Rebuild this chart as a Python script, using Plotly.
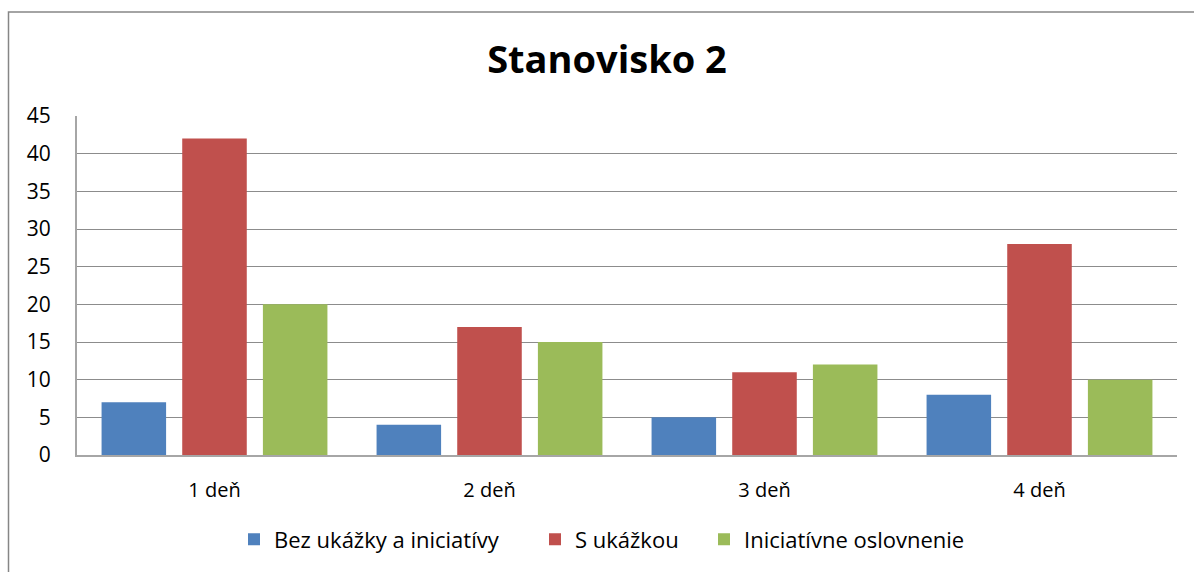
import plotly.graph_objects as go

categories = ["1 deň", "2 deň", "3 deň", "4 deň"]
series_names = ["Bez ukážky a iniciatívy", "S ukážkou", "Iniciatívne oslovnenie"]
bez_ukazky = [7, 4, 5, 8]
s_ukazkou = [42, 17, 11, 28]
iniciativne = [20, 15, 12, 10]
colors = ["#4F81BD", "#C0504D", "#9BBB59"]
y_ticks = list(range(0, 50, 5))

FONT = "Open Sans"

W, H = 1194, 572
L, R, T, B = 77, 1177, 116, 457
pw, ph = R - L, B - T

def px(x):
    return (x - L) / pw

def py(y):
    return (B - y) / ph

# one legend box per series so each entry sits at its own spot
legend_ids = ["legend", "legend2", "legend3"]
legend_left = [234, 535, 704]

fig = go.Figure()
for name, vals, col, lid in zip(series_names, [bez_ukazky, s_ukazkou, iniciativne], colors, legend_ids):
    fig.add_trace(go.Bar(x=categories, y=vals, name=name, legend=lid,
                         marker=dict(color=col, line=dict(width=0))))

legend_style = dict(orientation="h", yanchor="middle", y=py(542), xanchor="left",
                    font=dict(family=FONT, size=22), itemwidth=30, bgcolor="rgba(0,0,0,0)")

fig.update_layout(
    width=W, height=H,
    margin=dict(l=L, r=W - R, t=T, b=H - B),
    paper_bgcolor="white", plot_bgcolor="white",
    barmode="group", bargap=0.12, bargroupgap=0.2,
    font=dict(family=FONT, size=20, color="#000000"),
    title=dict(text="<b>Stanovisko 2</b>", x=607 / W, xanchor="center",
               y=1 - 60 / H, yanchor="middle", font=dict(family=FONT, size=38, color="#000")),
    legend=dict(legend_style, x=px(legend_left[0])),
    legend2=dict(legend_style, x=px(legend_left[1])),
    legend3=dict(legend_style, x=px(legend_left[2])),
    showlegend=True,
    shapes=[dict(type="rect", xref="paper", yref="paper",
                 x0=px(8.5), x1=px(1210), y0=py(590), y1=py(11.5),
                 line=dict(color="#868686", width=1.5), fillcolor="rgba(0,0,0,0)", layer="below")],
)
fig.update_xaxes(showline=True, linecolor="#A6A6A6", linewidth=2, showgrid=False,
                 ticks="", tickfont=dict(family=FONT, size=20), ticklabelstandoff=16)
fig.update_yaxes(range=[0, 45], tickvals=y_ticks, showline=True, linecolor="#A6A6A6", linewidth=2,
                 gridcolor="#8C8C8C", gridwidth=1, ticks="", zeroline=False,
                 tickfont=dict(family=FONT, size=21), ticklabelstandoff=20)

fig.write_html("out.html")
